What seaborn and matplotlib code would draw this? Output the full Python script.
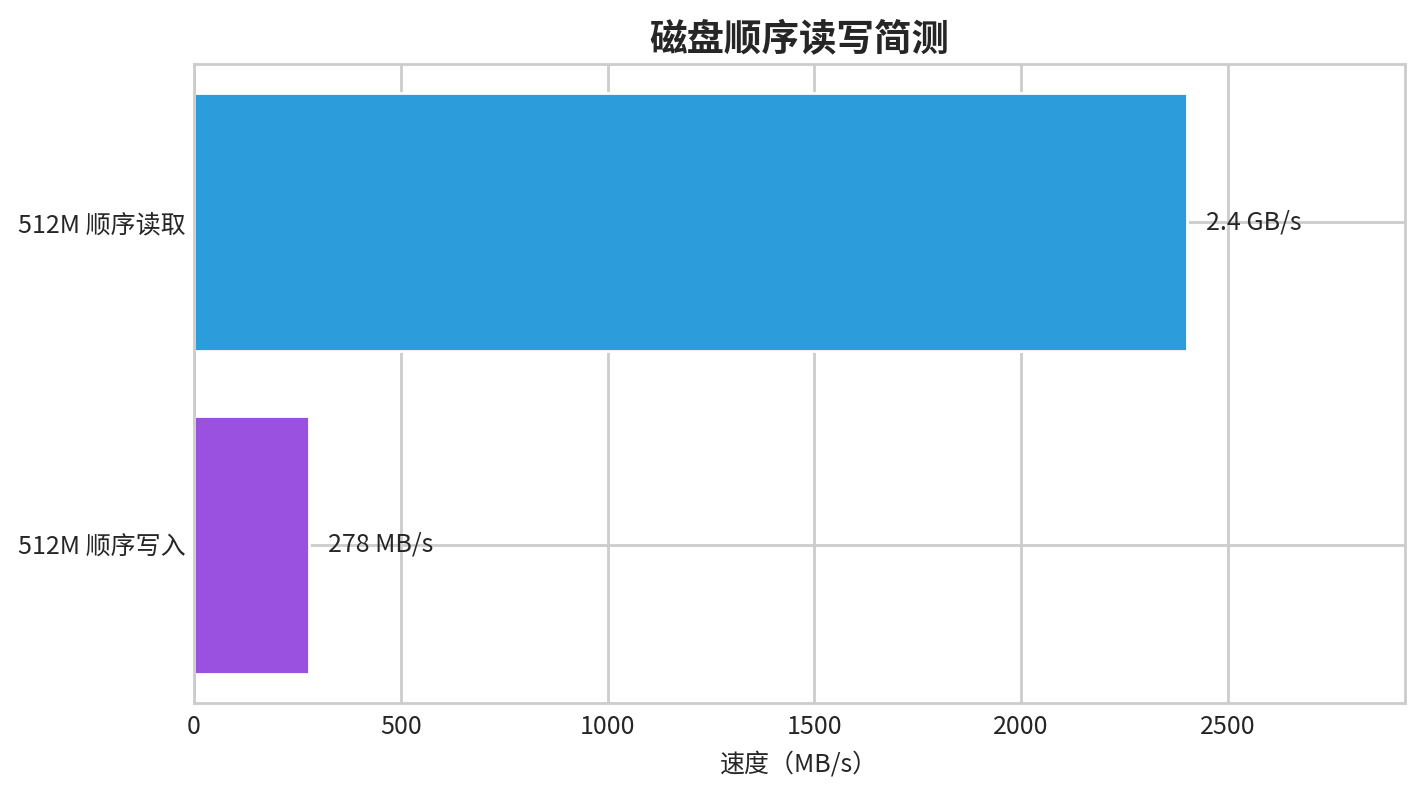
import matplotlib
matplotlib.use("Agg")
import matplotlib.pyplot as plt
import seaborn as sns
import pandas as pd

# chart data
categories = ["512M 顺序读取", "512M 顺序写入"]
speeds = [2400, 278]
value_labels = ["2.4 GB/s", "278 MB/s"]
bar_colors = ["#2D9CDB", "#9B51E0"]

sns.set_theme(style="whitegrid")
plt.rcParams['font.family'] = ['Noto Sans CJK SC', 'DejaVu Sans']
plt.rcParams['axes.edgecolor'] = '#cccccc'
plt.rcParams['grid.color'] = '#cccccc'
plt.rcParams['text.color'] = '#262626'
plt.rcParams['xtick.color'] = '#262626'
plt.rcParams['ytick.color'] = '#262626'
plt.rcParams['axes.labelcolor'] = '#262626'

df = pd.DataFrame({"category": categories, "speed": speeds})

fig = plt.figure(figsize=(7.11, 3.96), dpi=200)
ax = fig.add_axes([0.1364, 0.1124, 0.988 - 0.1364, 0.919 - 0.1124])

sns.barplot(data=df, x="speed", y="category", hue="category",
            palette=bar_colors, saturation=1, legend=False, width=0.8, ax=ax)

ax.set_xlim(0, max(speeds) * 1.22)
# same as matplotlib's default 5% margin around the bars
ax.set_ylim(len(categories) - 1 + 0.49, -0.49)
# seaborn switches off the grid on the categorical axis; the reference keeps it
ax.yaxis.grid(True)
ax.set_axisbelow(True)
ax.set_title("磁盘顺序读写简测", fontsize=13.5, fontweight="bold", pad=5)
ax.set_xlabel("速度（MB/s）", fontsize=9)
ax.set_ylabel("")
ax.tick_params(axis="x", labelsize=9, length=0, pad=4)
ax.tick_params(axis="y", labelsize=9, length=0, pad=3)

for i, (v, lab) in enumerate(zip(speeds, value_labels)):
    ax.annotate(lab, (v, i), xytext=(7, 0), textcoords="offset points",
                ha="left", va="center", fontsize=9)

for sp in ax.spines.values():
    sp.set_visible(True)
    sp.set_color('#cccccc')
    sp.set_linewidth(1.0)

fig.savefig("out.png", dpi=200)
